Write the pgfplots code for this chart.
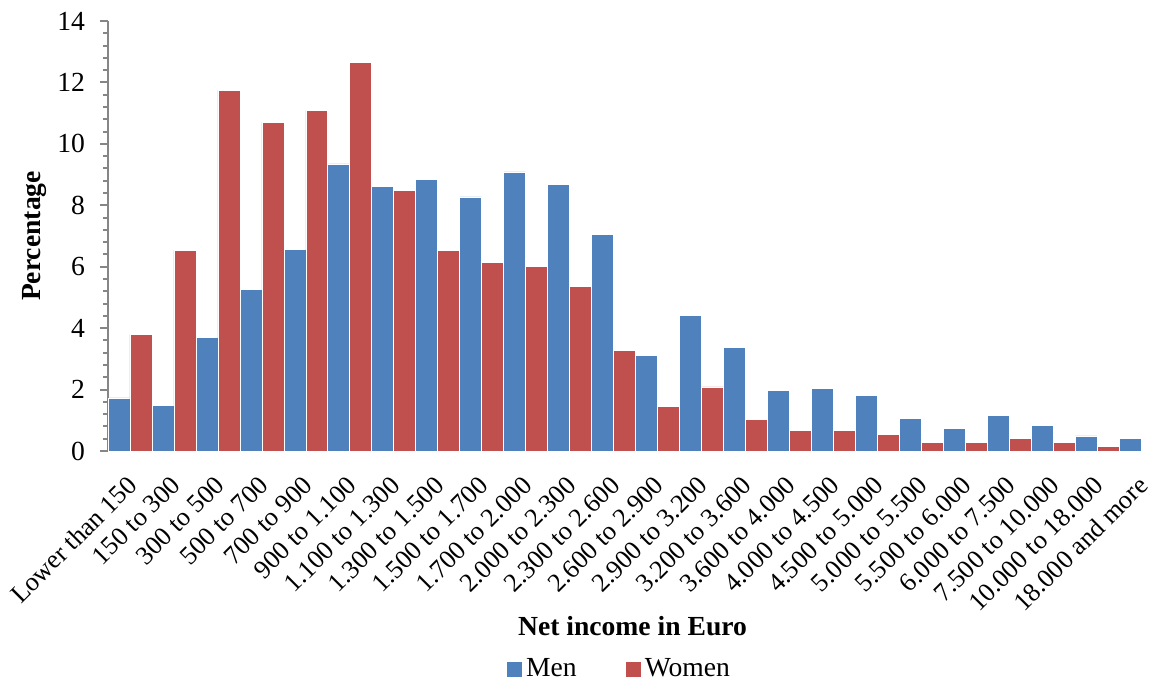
\documentclass[border=0pt]{standalone}
\usepackage{pgfplots}
\pgfplotsset{compat=1.18}
\usepackage{fontspec}
\setmainfont{Liberation Serif}
\definecolor{menblue}{RGB}{79,129,189}
\definecolor{womenred}{RGB}{192,80,77}
\definecolor{axgray}{RGB}{134,134,134}
\pgfplotstableread{
x men women
0 1.73 3.80
1 1.49 6.53
2 3.70 11.75
3 5.25 10.70
4 6.57 11.09
5 9.35 12.66
6 8.61 8.49
7 8.84 6.53
8 8.27 6.14
9 9.09 6.00
10 8.69 5.36
11 7.04 3.27
12 3.12 1.45
13 4.42 2.09
14 3.37 1.04
15 1.98 0.66
16 2.04 0.66
17 1.80 0.53
18 1.07 0.27
19 0.74 0.27
20 1.15 0.40
21 0.83 0.27
22 0.49 0.14
23 0.40 0.03
}\incometable
\newcommand{\tickfont}{\fontsize{13.8bp}{16bp}\selectfont}
\newcommand{\xtickfont}{\fontsize{13.1bp}{15bp}\selectfont}
\begin{document}
\begin{tikzpicture}
\begin{axis}[
  name=ax,
  scale only axis,
  width=527.5bp, height=215bp,
  xmin=-0.5, xmax=23.5, ymin=0, ymax=14,
  ybar=0pt, bar width=10.99bp,
  axis x line*=bottom, axis y line*=left,
  axis line style={draw=axgray, line width=1bp},
  ytick={0,2,...,14}, minor y tick num=4,
  tick align=outside,
  ytick style={draw=axgray, line width=1bp},
  xtick style={draw=none},
  major tick length=4bp, minor tick length=2.5bp,
  xtick={0,...,23},
  xticklabels={Lower than 150,150 to 300,300 to 500,500 to 700,700 to 900,900 to 1.100,1.100 to 1.300,1.300 to 1.500,1.500 to 1.700,1.700 to 2.000,2.000 to 2.300,2.300 to 2.600,2.600 to 2.900,2.900 to 3.200,3.200 to 3.600,3.600 to 4.000,4.000 to 4.500,4.500 to 5.000,5.000 to 5.500,5.500 to 6.000,6.000 to 7.500,7.500 to 10.000,10.000 to 18.000,18.000 and more},
  /pgf/number format/assume math mode=true,
  tick label style={font=\tickfont},
  x tick label style={font=\xtickfont, rotate=45, anchor=north east, xshift=-3.6bp, yshift=-0.4bp},
  y tick label style={xshift=-4bp},
  xlabel={Net income in Euro},
  ylabel={Percentage},
  label style={font=\tickfont\bfseries},
  xlabel style={at={(axis description cs:0.4972,0)}, anchor=base, yshift=-92bp},
  ylabel style={at={(axis description cs:0,0.5)}, anchor=base, yshift=33.85bp},
  legend columns=2,
  legend style={at={(axis description cs:0.4858,-0.507)}, anchor=center, draw=none, fill=none, font=\tickfont, inner sep=1bp, nodes={inner sep=1.8bp}, /tikz/every even column/.append style={column sep=23bp}},
  sq legend/.style={legend image code/.code={\fill[##1,draw=none] (0bp,-3.75bp) rectangle (7.5bp,3.75bp);}},
]
\addplot[fill=menblue, draw=white, line width=0.3bp, bar shift=-5.495bp, sq legend] table[x=x, y=men] {\incometable};
\addplot[fill=womenred, draw=white, line width=0.3bp, bar shift=5.495bp, sq legend] table[x=x, y=women] {\incometable};
\legend{Men,Women}
\end{axis}
\pgfresetboundingbox
\path[use as bounding box] ([xshift=-54bp,yshift=-114bp]ax.south west) rectangle ([xshift=-6bp,yshift=10.5bp]ax.north east);
\end{tikzpicture}
\end{document}
